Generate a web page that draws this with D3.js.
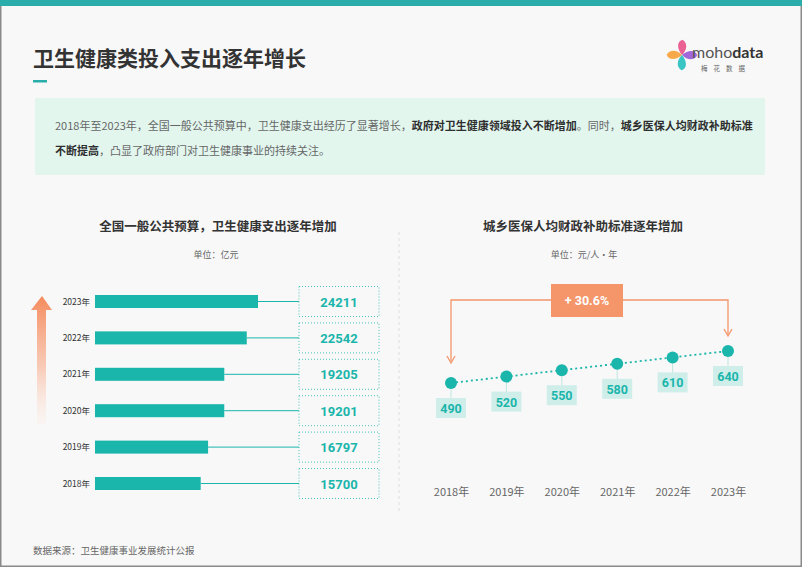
<!DOCTYPE html>
<html><head><meta charset="utf-8">
<script src="https://cdn.jsdelivr.net/npm/d3@7"></script>
<style>body{margin:0;background:#fff;}svg{display:block;font-family:"Noto Sans CJK SC","Noto Sans",sans-serif;}</style>
</head><body>
<svg id="c" width="802" height="567"></svg>
<script>
// ---------- data ----------
const budgetYears = ["2023年","2022年","2021年","2020年","2019年","2018年"];
const budgetValues = [24211, 22542, 19205, 19201, 16797, 15700];
const subsidyYears = ["2018年","2019年","2020年","2021年","2022年","2023年"];
const subsidyValues = [490, 520, 550, 580, 610, 640];
const growthLabel = "+ 30.6%";

const teal = "#1ab5ab", orange = "#f4956a";
const svg = d3.select("#c");

// background & frame
svg.append("rect").attr("x",0).attr("y",0).attr("width",802).attr("height",567).attr("fill","#f8f8f8");
svg.append("rect").attr("x",0.75).attr("y",0).attr("width",800.5).attr("height",566.25).attr("fill","none").attr("stroke","#8a8a8a").attr("stroke-width",1.5);
svg.append("rect").attr("x",0).attr("y",0).attr("width",802).attr("height",6).attr("fill","#2aadab");

// title
svg.append("text").attr("x",33).attr("y",66).attr("font-size",21).attr("font-weight",700).attr("fill","#333").text("卫生健康类投入支出逐年增长");
svg.append("rect").attr("x",33).attr("y",80).attr("width",14).attr("height",2.5).attr("fill","#2aadab");

// logo
const logo = svg.append("g").attr("transform","translate(682,55)");
const petal = "M0,0 C-4,-7 -3,-14 3,-15 C8,-11 6,-4 0,0Z";
[["#f7a23a",-100],["#e8558a",-10],["#9a5ad6",80],["#27c0bf",170]].forEach(([c,a])=>{
  logo.append("path").attr("d",petal).attr("fill",c).attr("opacity",0.92).attr("transform",`rotate(${a})`);
});
const lt = svg.append("text").attr("x",692).attr("y",58).attr("font-size",16).attr("font-family","Lato, 'Open Sans', sans-serif");
lt.append("tspan").attr("fill","#555").text("moho");
lt.append("tspan").attr("fill","#333").attr("font-weight",700).text("data");
svg.append("text").attr("x",726).attr("y",71).attr("font-size",6.5).attr("fill","#666").attr("text-anchor","middle").attr("letter-spacing",6).text("梅花数据");

// intro box
svg.append("rect").attr("x",35).attr("y",98).attr("width",730).attr("height",77).attr("fill","#e2f6ee");
const l1 = svg.append("text").attr("x",55).attr("y",130).attr("font-size",11).attr("fill","#666");
[["2018年至2023年，全国一般公共预算中，卫生健康支出经历了显著增长，",0],["政府对卫生健康领域投入不断增加",1],["。同时，",0],["城乡医保人均财政补助标准",1]]
 .forEach(([t,b])=>l1.append("tspan").attr("font-weight",b?700:400).attr("fill",b?"#2e2e2e":"#666").text(t));
const l2 = svg.append("text").attr("x",55).attr("y",155).attr("font-size",11).attr("fill","#666");
[["不断提高",1],["，凸显了政府部门对卫生健康事业的持续关注。",0]]
 .forEach(([t,b])=>l2.append("tspan").attr("font-weight",b?700:400).attr("fill",b?"#2e2e2e":"#666").text(t));

// divider
svg.append("line").attr("x1",399).attr("x2",399).attr("y1",232).attr("y2",512).attr("stroke","#ddd").attr("stroke-dasharray","3,3");

// ---------- left chart ----------
svg.append("text").attr("x",218).attr("y",231).attr("text-anchor","middle").attr("font-size",12.5).attr("font-weight",700).attr("fill","#333").text("全国一般公共预算，卫生健康支出逐年增加");
svg.append("text").attr("x",216).attr("y",258).attr("text-anchor","middle").attr("font-size",9).attr("fill","#666").text("单位：亿元");

// gradient arrow
const defs = svg.append("defs");
const g = defs.append("linearGradient").attr("id","ag").attr("x1",0).attr("y1",0).attr("x2",0).attr("y2",1);
g.append("stop").attr("offset","0%").attr("stop-color","#f58a5c").attr("stop-opacity",1);
g.append("stop").attr("offset","55%").attr("stop-color","#f8b699").attr("stop-opacity",0.7);
g.append("stop").attr("offset","100%").attr("stop-color","#fde6dc").attr("stop-opacity",0.2);
svg.append("path").attr("d","M42,296 L52,310 L46,310 L46,424 L37,424 L37,310 L31,310 Z").attr("fill","url(#ag)");

const xL = d3.scaleLinear().domain([0, d3.max(budgetValues)]).range([95, 258]);
const yL = d3.scalePoint().domain(budgetYears).range([301.5, 483.5]);
const barH = 13, boxX = 299, boxW = 80, boxH = 30;
const rowsL = svg.append("g").selectAll("g").data(budgetYears).join("g");
rowsL.append("line").attr("x1",(d,i)=>xL(budgetValues[i])).attr("x2",boxX).attr("y1",d=>yL(d)).attr("y2",d=>yL(d)).attr("stroke",teal).attr("stroke-width",1);
rowsL.append("rect").attr("x",xL(0)).attr("y",d=>yL(d)-barH/2).attr("width",(d,i)=>xL(budgetValues[i])-xL(0)).attr("height",barH).attr("fill",teal);
rowsL.append("text").attr("x",90).attr("y",d=>yL(d)+3).attr("text-anchor","end").attr("font-size",8.5).attr("fill","#333").text(d=>d);
rowsL.append("rect").attr("x",boxX).attr("y",d=>yL(d)-boxH/2).attr("width",boxW).attr("height",boxH).attr("fill","none").attr("stroke",teal).attr("stroke-width",0.8).attr("stroke-dasharray","1,2");
rowsL.append("text").attr("x",boxX+boxW/2).attr("y",d=>yL(d)+5).attr("text-anchor","middle").attr("font-size",13).attr("font-weight",700).attr("font-family","Roboto, sans-serif").attr("fill",teal).text((d,i)=>budgetValues[i]);

// ---------- right chart ----------
svg.append("text").attr("x",583).attr("y",231).attr("text-anchor","middle").attr("font-size",12.5).attr("font-weight",700).attr("fill","#333").text("城乡医保人均财政补助标准逐年增加");
svg.append("text").attr("x",584).attr("y",258).attr("text-anchor","middle").attr("font-size",9).attr("fill","#666").text("单位：元/人·年");

const xR = d3.scalePoint().domain(subsidyYears).range([451, 728]);
const yR = d3.scaleLinear().domain([490, 640]).range([383, 351]);

// bracket
const first = subsidyYears[0], last = subsidyYears[subsidyYears.length-1];
const brY = 300;
svg.append("path").attr("d",`M${xR(first)},${yR(subsidyValues[0])-22} V${brY} H${xR(last)} V${yR(subsidyValues[5])-17}`).attr("fill","none").attr("stroke",orange).attr("stroke-width",1.3);
svg.append("path").attr("d",`M${xR(first)-4},${yR(subsidyValues[0])-27} L${xR(first)},${yR(subsidyValues[0])-20} L${xR(first)+4},${yR(subsidyValues[0])-27}`).attr("fill","none").attr("stroke",orange).attr("stroke-width",1.3);
svg.append("path").attr("d",`M${xR(last)-4},${yR(subsidyValues[5])-22} L${xR(last)},${yR(subsidyValues[5])-15} L${xR(last)+4},${yR(subsidyValues[5])-22}`).attr("fill","none").attr("stroke",orange).attr("stroke-width",1.3);
svg.append("rect").attr("x",551).attr("y",284).attr("width",72).attr("height",33).attr("fill",orange);
svg.append("text").attr("x",587).attr("y",305).attr("text-anchor","middle").attr("font-size",12.5).attr("font-weight",700).attr("fill","#fff").attr("font-family","Roboto, sans-serif").text(growthLabel);

// dotted line
const line = d3.line().x((d,i)=>xR(subsidyYears[i])).y(d=>yR(d));
svg.append("path").attr("d",line(subsidyValues)).attr("fill","none").attr("stroke",teal).attr("stroke-width",1.8).attr("stroke-dasharray","2,3");

const pts = svg.append("g").selectAll("g").data(subsidyYears).join("g");
pts.append("line").attr("x1",d=>xR(d)).attr("x2",d=>xR(d)).attr("y1",(d,i)=>yR(subsidyValues[i])).attr("y2",(d,i)=>yR(subsidyValues[i])+16).attr("stroke","#bfe6e1").attr("stroke-width",1);
pts.append("rect").attr("x",d=>xR(d)-15).attr("y",(d,i)=>yR(subsidyValues[i])+15).attr("width",30).attr("height",20).attr("fill","#cfeeea");
pts.append("text").attr("x",d=>xR(d)).attr("y",(d,i)=>yR(subsidyValues[i])+30).attr("text-anchor","middle").attr("font-size",12.5).attr("font-weight",700).attr("font-family","Roboto, sans-serif").attr("fill",teal).text((d,i)=>subsidyValues[i]);
pts.append("circle").attr("cx",d=>xR(d)).attr("cy",(d,i)=>yR(subsidyValues[i])).attr("r",6).attr("fill",teal);

// x axis labels
const ax = svg.append("g").attr("transform","translate(0,488)").call(d3.axisBottom(xR).tickSize(0).tickPadding(0));
ax.select(".domain").remove();
ax.selectAll("text").attr("font-size",11).attr("fill","#666").attr("font-family","'Noto Sans CJK SC',sans-serif").attr("dy","0.71em");

// source
svg.append("text").attr("x",33).attr("y",554).attr("font-size",9.5).attr("fill","#666").text("数据来源：卫生健康事业发展统计公报");
</script>
</body></html>
